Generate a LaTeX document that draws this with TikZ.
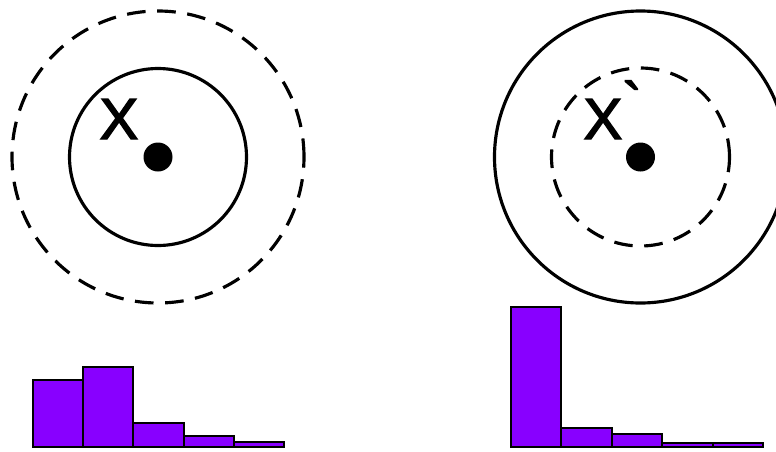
\documentclass[tikz,border=0pt]{standalone}
\usepackage{fontspec}
\setmainfont{Liberation Sans}
\newfontfamily\tagfont{Liberation Sans}[FakeBold=2.5]
\usetikzlibrary{calc}

\definecolor{barviolet}{RGB}{136,0,255}

\begin{document}
\begin{tikzpicture}[
    line width=1.8pt,
    dashring/.style={dash pattern=on 10.6pt off 6.6pt},
    centre/.style={circle, fill=black, inner sep=0pt, minimum size=0.58cm},
    tag/.style={font=\tagfont\fontsize{33}{33}\selectfont, inner sep=0pt, anchor=base west},
    bar/.style={fill=barviolet, draw=black, line width=1.1pt}
  ]
  \clip (0,0) rectangle (15.52,9.02);

  % Left: solid ring inside a dashed ring
  \node[centre] (dotL) at (3.16,5.88) {};
  \draw[dashring] (dotL) circle (2.92);
  \draw (dotL) circle (1.77);
  \node[tag] (tagL) at (1.96,6.24) {X};

  % Right: dashed ring inside a solid ring
  \node[centre] (dotR) at (12.81,5.88) {};
  \draw (dotR) circle (2.92);
  \draw[dashring] (dotR) circle (1.78);
  \node[tag] (tagR) at (11.64,6.24) {X\raisebox{0.27em}{\textasciigrave}};

  % Histograms
  \foreach \h [count=\i from 0] in {1.34, 1.60, 0.48, 0.22, 0.10} {
    \draw[bar] (0.66+\i*1.004, 0.08) rectangle ++(1.004, \h);
  }
  \foreach \h [count=\i from 0] in {2.80, 0.38, 0.26, 0.08, 0.08} {
    \draw[bar] (10.22+\i*1.008, 0.08) rectangle ++(1.008, \h);
  }
\end{tikzpicture}
\end{document}
